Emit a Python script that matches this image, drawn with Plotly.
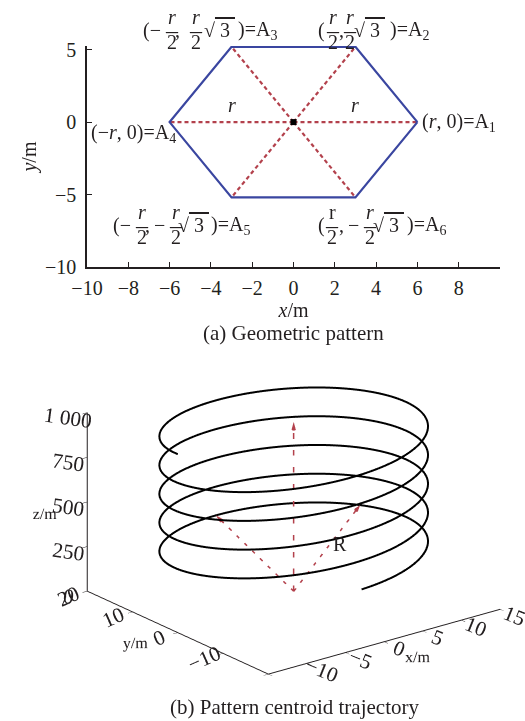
import numpy as np
import plotly.graph_objects as go

# ---------------- data ----------------
# hexagon vertices A1..A6 of the geometric pattern (r = 6 m)
vertex_names = ["A1", "A2", "A3", "A4", "A5", "A6"]
vertex_x = [6.0, 3.0, -3.0, -6.0, -3.0, 3.0]
vertex_y = [0.0, 5.196, 5.196, 0.0, -5.196, -5.196]
centroid_x, centroid_y = 0.0, 0.0
radius_label_x = [-3.0, 3.0]

x_ticks_a = [-10, -8, -6, -4, -2, 0, 2, 4, 6, 8]
y_ticks_a = [-10, -5, 0, 5]

# helix followed by the pattern centroid
helix_radius = 15.0
helix_angle_start = -90.0     # deg
helix_angle_end = 1620.0      # deg
helix_z_start = 235.0
helix_z_end = 1000.0
arrow_angles = [95.0, 30.0]   # helix points marked with radius R
arrow_base_z = 50.0
axis_arrow_top = 1000.0

x_ticks_b = [-15, -10, -5, 0, 5, 10, 15]
y_ticks_b = [-20, -10, 0, 10, 20]
z_ticks_b = [0, 250, 500, 750, 1000]
z_tick_text = ["0", "250", "500", "750", "1 000"]

# ---------------- styles ----------------
SERIF = "Liberation Serif, Times New Roman, serif"
INK = "#231f20"
BLUE = "#3a46a0"
RED = "#b3414c"
TICK_FONT = dict(family=SERIF, size=20, color=INK)
LABEL_FONT = dict(family=SERIF, size=20, color=INK)
BAR_FONT = dict(family=SERIF, size=24, color=INK)
CAP_FONT = dict(family=SERIF, size=21, color=INK)
TICK3D_FONT = dict(family=SERIF, size=16, color=INK)

fig = go.Figure()

# ---------------- (a) geometric pattern ----------------
for vx, vy in zip(vertex_x, vertex_y):
    fig.add_trace(go.Scatter(x=[centroid_x, vx], y=[centroid_y, vy], mode="lines",
                             line=dict(color=RED, width=2.2, dash="4px,3px"),
                             hoverinfo="skip", showlegend=False))
fig.add_trace(go.Scatter(x=vertex_x + vertex_x[:1], y=vertex_y + vertex_y[:1], mode="lines",
                         line=dict(color=BLUE, width=2.2), showlegend=False))
fig.add_trace(go.Scatter(x=[centroid_x], y=[centroid_y], mode="markers",
                         marker=dict(symbol="square", size=6, color="black"), showlegend=False))

for rx in radius_label_x:
    fig.add_annotation(x=rx, y=0, xref="x", yref="y", text="<i>r</i>", showarrow=False,
                       yshift=17, font=LABEL_FONT)

SQRT3 = '\u221a<span style="text-decoration:overline">\u00a03\u00a0</span>'


def put(idx, text, dx, dy, anchor="center", font=LABEL_FONT):
    fig.add_annotation(x=vertex_x[idx], y=vertex_y[idx], xref="x", yref="y", text=text,
                       showarrow=False, xshift=dx, yshift=dy, xanchor=anchor,
                       yanchor="middle", font=font)


def frac(idx, dx, row, num="<i>r</i>"):
    put(idx, num, dx, row + 13)
    put(idx, "\u2013", dx, row + 0.5, font=BAR_FONT)
    put(idx, "2", dx, row - 11.7)


# A1 and A4 : single-line labels
put(0, "(<i>r</i>, 0)=A<sub>1</sub>", 3, 0, "left")
put(3, "(\u2212<i>r</i>, 0)=A<sub>4</sub>", 8, -11, "right")

# A2
row = 16.7
put(1, "(", -34, row)
frac(1, -22.7, row)
put(1, ",", -14, row)
frac(1, -5.7, row)
put(1, SQRT3, 14.3, row)
put(1, ")=A<sub>2</sub>", 53.8, row)

# A3
put(2, "(\u2212", -80, row)
frac(2, -60, row)
put(2, ",", -54, row)
frac(2, -36, row)
put(2, SQRT3, -11.7, row)
put(2, ")=A<sub>3</sub>", 26.3, row)

# A5
row = -27.7
put(4, "(\u2212", -110, row)
frac(4, -90, row)
put(4, ",", -84, row)
put(4, "\u2212", -71.7, row)
frac(4, -56, row)
put(4, SQRT3, -38, row)
put(4, ")=A<sub>5</sub>", -0.7, row)

# A6
put(5, "(", -34, row)
frac(5, -23, row, num="r")
put(5, ",", -14, row)
put(5, "\u2212", -1.7, row)
frac(5, 14.3, row)
put(5, SQRT3, 33.3, row)
put(5, ")=A<sub>6</sub>", 70.8, row)

fig.update_xaxes(domain=[87 / 525, 500 / 525], range=[-10, 10], tickvals=x_ticks_a,
                 ticks="inside", ticklen=5, tickwidth=1.2, tickcolor=INK,
                 showline=True, linecolor=INK, linewidth=1.5, showgrid=False, zeroline=False,
                 tickfont=TICK_FONT, ticklabelstandoff=2, automargin=False,
                 title=dict(text="<i>x</i>/m", font=TICK_FONT, standoff=2))
fig.update_yaxes(domain=[1 - 267 / 721, 1 - 46 / 721], range=[-10, 5.25], tickvals=y_ticks_a,
                 ticks="inside", ticklen=5, tickwidth=1.2, tickcolor=INK,
                 showline=True, linecolor=INK, linewidth=1.5, showgrid=False, zeroline=False,
                 tickfont=TICK_FONT, ticklabelstandoff=5, automargin=False,
                 title=dict(text="<i>y</i>/m", font=TICK_FONT, standoff=3))

fig.add_annotation(x=0.5 * (87 + 500) / 525, y=1 - 333 / 721, xref="paper", yref="paper",
                   text="(a) Geometric pattern", showarrow=False, font=CAP_FONT,
                   xanchor="center", yanchor="middle")

# ---------------- (b) pattern centroid trajectory ----------------
theta = np.deg2rad(np.linspace(helix_angle_start, helix_angle_end, 1200))
frac_t = (theta - theta[0]) / (theta[-1] - theta[0])
hx = helix_radius * np.cos(theta)
hy = helix_radius * np.sin(theta)
hz = helix_z_start + frac_t * (helix_z_end - helix_z_start)

fig.add_trace(go.Scatter3d(x=hx, y=hy, z=hz, mode="lines",
                           line=dict(color="black", width=4), showlegend=False,
                           hoverinfo="skip", scene="scene"))


def helix_point(deg):
    t = (deg - helix_angle_start) / (helix_angle_end - helix_angle_start)
    a = np.deg2rad(deg)
    return (helix_radius * np.cos(a), helix_radius * np.sin(a),
            helix_z_start + t * (helix_z_end - helix_z_start))


base = np.array([0.0, 0.0, arrow_base_z])
arrow_ends = [helix_point(a) for a in arrow_angles] + [(0.0, 0.0, axis_arrow_top)]
for ex, ey, ez in arrow_ends:
    fig.add_trace(go.Scatter3d(x=[base[0], ex], y=[base[1], ey], z=[base[2], ez], mode="lines",
                               line=dict(color=RED, width=3, dash="longdash"),
                               showlegend=False, hoverinfo="skip", scene="scene"))

zoom = 1.7
z_aspect = 0.65
# scene units per data unit along x, y, z
unit = np.array([zoom / 30.0, zoom / 40.0, z_aspect * zoom / 1000.0])
head_len = 0.05
heads = []
for e in arrow_ends:
    d = (np.array(e) - base) * unit
    d = d / np.linalg.norm(d) * head_len
    heads.append(d / unit)

# arrow heads at the ends of the dashed radius / axis arrows
fig.add_trace(go.Cone(x=[e[0] for e in arrow_ends], y=[e[1] for e in arrow_ends],
                      z=[e[2] for e in arrow_ends],
                      u=[h[0] for h in heads], v=[h[1] for h in heads], w=[h[2] for h in heads],
                      anchor="tip", sizemode="raw", sizeref=1,
                      colorscale=[[0, RED], [1, RED]], showscale=False, hoverinfo="skip",
                      lighting=dict(ambient=1, diffuse=0, specular=0, fresnel=0, roughness=1),
                      scene="scene"))

r_end = np.array(arrow_ends[1])
r_mid = base + 0.55 * (r_end - base)
axis3d = dict(showbackground=False, showgrid=False, zeroline=False, showline=True,
              linecolor=INK, linewidth=2, ticks="outside", ticklen=6, tickcolor=INK,
              tickfont=TICK3D_FONT, showspikes=False)

shift = 0.18
fig.update_layout(
    scene=dict(
        domain=dict(x=[0.0, 1.0], y=[0.051, 0.531]),
        xaxis=dict(range=[-15, 15], tickvals=x_ticks_b, tickangle=22,
                   title=dict(text="x/m", font=TICK3D_FONT), **axis3d),
        yaxis=dict(range=[-20, 20], tickvals=y_ticks_b, tickangle=-24,
                   title=dict(text="y/m", font=TICK3D_FONT), **axis3d),
        zaxis=dict(range=[0, 1000], tickvals=z_ticks_b, ticktext=z_tick_text, tickangle=8,
                   title=dict(text="z/m", font=TICK3D_FONT), **axis3d),
        aspectmode="manual", aspectratio=dict(x=zoom, y=zoom, z=z_aspect * zoom),
        camera=dict(eye=dict(x=-0.575 - 0.79 * shift, y=-0.736 + 0.616 * shift, z=0.358),
                    center=dict(x=-0.79 * shift, y=0.616 * shift, z=0),
                    projection=dict(type="orthographic")),
        annotations=[dict(x=r_mid[0], y=r_mid[1], z=r_mid[2], text="R",
                          showarrow=False, xshift=10, font=LABEL_FONT)],
    ),
)

fig.add_annotation(x=0.56, y=1 - 707 / 721, xref="paper", yref="paper",
                   text="(b) Pattern centroid trajectory", showarrow=False, font=CAP_FONT,
                   xanchor="center", yanchor="middle")

fig.update_layout(width=525, height=721, margin=dict(l=0, r=0, t=0, b=0),
                  paper_bgcolor="white", plot_bgcolor="white", showlegend=False,
                  font=dict(family=SERIF, color=INK))

fig.write_html("out.html")
